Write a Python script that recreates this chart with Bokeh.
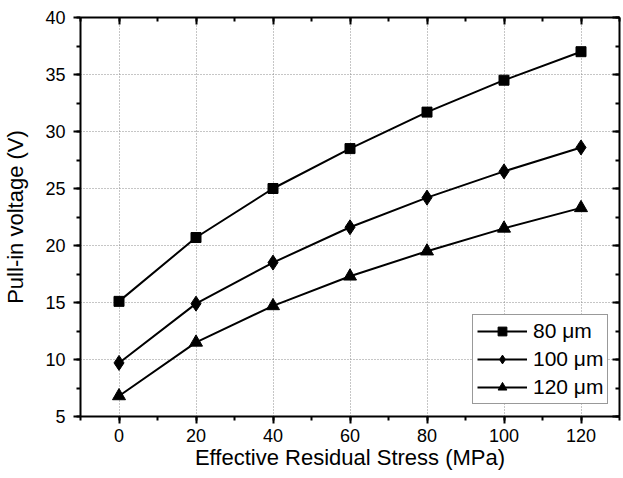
from bokeh.plotting import figure
from bokeh.models import (LinearAxis, SingleIntervalTicker, Range1d, Legend, LegendItem,
                          CustomJSTickFormatter)
from bokeh.embed import file_html
from bokeh.resources import INLINE

stress = [0, 20, 40, 60, 80, 100, 120]
v80 = [15.1, 20.7, 25.0, 28.5, 31.7, 34.5, 37.0]
v100 = [9.7, 14.9, 18.5, 21.6, 24.2, 26.5, 28.6]
v120 = [6.8, 11.5, 14.7, 17.3, 19.5, 21.5, 23.3]
series_labels = ["80 \u03bcm", "100 \u03bcm", "120 \u03bcm"]
markers = ["square", "diamond", "triangle"]
marker_sizes = [10, 15, 13]

FONT = "Liberation Sans"

p = figure(frame_width=539, frame_height=399, output_backend="svg", toolbar_location=None,
           x_range=Range1d(-10, 130), y_range=Range1d(5, 40),
           x_axis_location=None, y_axis_location=None,
           min_border_left=80, min_border_right=4, min_border_top=17, min_border_bottom=62)
p.outline_line_color = None
p.background_fill_color = "white"
p.border_fill_color = "white"

xt = SingleIntervalTicker(interval=20, num_minor_ticks=2)
yt = SingleIntervalTicker(interval=5, num_minor_ticks=2)

def style(ax, inward, show_labels):
    ax.axis_line_width = 2
    ax.axis_line_color = "black"
    ax.major_tick_line_width = 2
    ax.minor_tick_line_width = 2
    ax.major_tick_line_color = "black"
    ax.minor_tick_line_color = "black"
    if inward:
        ax.major_tick_in = 7
        ax.major_tick_out = 0
        ax.minor_tick_in = 4
        ax.minor_tick_out = 0
    else:
        ax.major_tick_in = 0
        ax.major_tick_out = 7
        ax.minor_tick_in = 0
        ax.minor_tick_out = 4
    if show_labels:
        ax.major_label_text_font = FONT
        ax.major_label_text_font_size = "18px"
        ax.major_label_text_color = "black"
        ax.axis_label_text_font = FONT
        ax.axis_label_text_font_size = "22px"
        ax.axis_label_text_font_style = "normal"
        ax.axis_label_text_color = "black"
    else:
        ax.formatter = CustomJSTickFormatter(code="return ''")
        ax.major_label_standoff = 0
        ax.axis_label = None

bottom = LinearAxis(ticker=xt, axis_label="Effective Residual Stress (MPa)")
style(bottom, False, True)
bottom.major_label_standoff = 5
bottom.axis_label_standoff = 0
left = LinearAxis(ticker=yt, axis_label="Pull-in voltage (V)")
style(left, False, True)
left.major_label_standoff = 8
left.axis_label_standoff = 14
top = LinearAxis(ticker=xt)
style(top, True, False)
right = LinearAxis(ticker=yt)
style(right, True, False)

p.add_layout(bottom, "below")
p.add_layout(left, "left")
p.add_layout(top, "above")
p.add_layout(right, "right")

p.xgrid.ticker = xt
p.ygrid.ticker = yt
for g in (p.xgrid, p.ygrid):
    g.grid_line_color = "#8c8c8c"
    g.grid_line_dash = "1 2"
    g.grid_line_width = 1

items = []
for ys, lab, mk, ms in zip([v80, v100, v120], series_labels, markers, marker_sizes):
    l = p.line(stress, ys, line_color="black", line_width=2)
    s = p.scatter(stress, ys, marker=mk, size=ms, fill_color="black", line_color="black")
    items.append(LegendItem(label=lab, renderers=[l, s]))

legend = Legend(items=items, location=(392, 12))
legend.border_line_color = "#333333"
legend.border_line_width = 1
legend.label_text_font = FONT
legend.label_text_font_size = "21px"
legend.label_text_color = "black"
legend.glyph_width = 50
legend.glyph_height = 22
legend.label_height = 22
legend.label_standoff = 6
legend.spacing = 4
legend.padding = 4
legend.margin = 0
legend.background_fill_alpha = 1
p.add_layout(legend, "center")

open("out.html", "w").write(file_html(p, INLINE))
